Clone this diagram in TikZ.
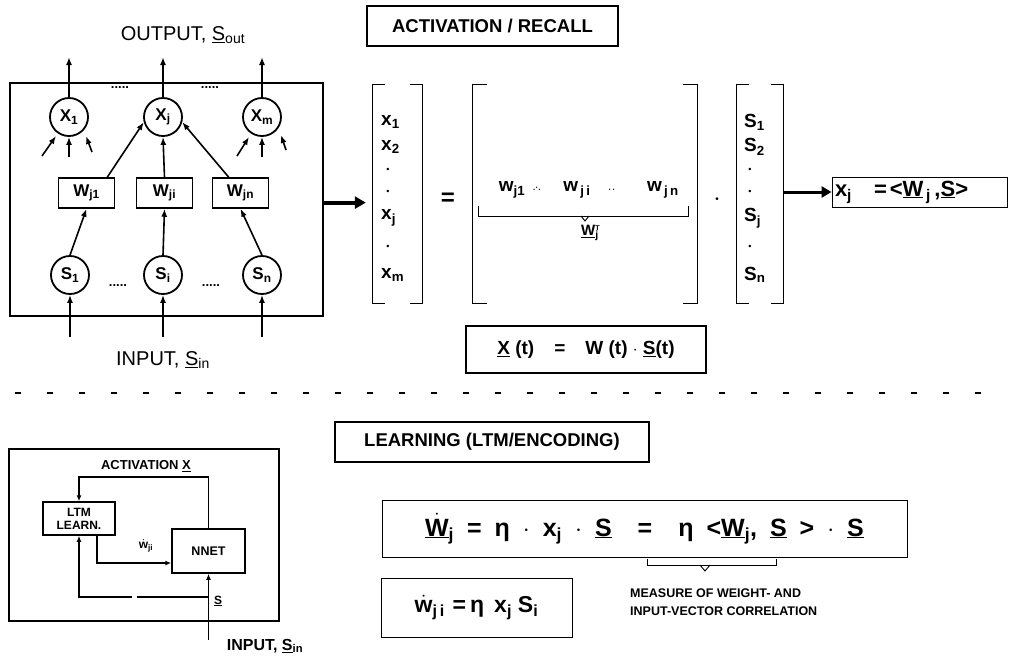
\documentclass[tikz,border=0pt]{standalone}
\usepackage{fontspec}
\setmainfont{Liberation Sans}
\usetikzlibrary{arrows.meta,calc}
\newcommand{\sbx}[1]{\textsubscript{#1}}
\newcommand{\uv}[1]{\underline{#1}}
\newcommand{\dotacc}[1]{\ensuremath{\dot{\hbox{#1}}}}
\newcommand{\fs}[1]{\fontsize{#1}{#1}\selectfont}
\newcommand{\gp}{\hspace{13pt}}
\begin{document}
\begin{tikzpicture}[x=1pt,y=-1pt,
  neuron/.style={circle,draw,line width=1.8pt,minimum size=38pt,inner sep=0pt,font=\fs{17}\bfseries},
  wbox/.style={draw,line width=1.5pt,minimum width=56pt,minimum height=30pt,inner sep=0pt,font=\fs{17}\bfseries},
  arr/.style={-{Latex[length=8pt,width=6pt]},line width=1.6pt},
  arrs/.style={-{Latex[length=6pt,width=5pt]},line width=1.4pt},
  bigarr/.style={-{Triangle[length=11pt,width=12pt]},line width=4pt},
  midarr/.style={-{Triangle[length=10pt,width=11pt]},line width=3pt},
  frame/.style={draw,line width=2.2pt,inner sep=0pt},
  thinbox/.style={draw,line width=0.9pt,inner sep=0pt},
  head/.style={draw,line width=2pt,inner sep=0pt,font=\fs{18.5}\bfseries},
  lbl/.style={font=\fs{20}},
  ent/.style={font=\fs{19}\bfseries,anchor=west,inner sep=0pt},
  dotn/.style={font=\fs{9},inner sep=0pt},
  vecbox/.style={inner sep=0pt},
  brk/.style={line width=0.9pt},
  small/.style={font=\fs{12}\bfseries,inner sep=0pt},
  dotsn/.style={font=\fs{13}\bfseries,inner sep=0pt}
]
\useasboundingbox (0,0) rectangle (1009,657);

% ---------------- network ----------------
\node[frame,anchor=north west,minimum width=313pt,minimum height=233pt] (net) at (9,82) {};
\node[lbl] (outlbl) at (183,35) {OUTPUT, \uv{S}\sbx{out}};
\node[neuron] (x1) at (69,117) {X\sbx{1}};
\node[neuron] (xj) at (163,117) {X\sbx{j}};
\node[neuron] (xm) at (262,117) {X\sbx{m}};
\node[wbox] (w1) at (86.5,193) {W\sbx{j1}};
\node[wbox] (wi) at (164.5,193) {W\sbx{ji}};
\node[wbox] (wn) at (240.5,193) {W\sbx{jn}};
\node[neuron] (s1) at (70,275) {S\sbx{1}};
\node[neuron] (si) at (163,275) {S\sbx{i}};
\node[neuron] (sn) at (262,275) {S\sbx{n}};
\node[dotsn] (d1) at (120,88) {.....};
\node[dotsn] (d2) at (210,88) {.....};
\node[dotsn] (d3) at (118,286) {.....};
\node[dotsn] (d4) at (211,286) {.....};
\coordinate (o1) at (69,57);
\coordinate (oj) at (163,57);
\coordinate (om) at (262,57);
\draw[arr] (x1.north) -- (o1);
\draw[arr] (xj.north) -- (oj);
\draw[arr] (xm.north) -- (om);
% small inputs into x1 and xm
\coordinate (a1) at (42,156); \coordinate (a1e) at (56,136);
\coordinate (a2) at (69,157);
\coordinate (a3) at (92,152); \coordinate (a3e) at (86,136);
\draw[arr] (a1) -- (a1e);
\draw[arr] (a2) -- (x1.south);
\draw[arr] (a3) -- (a3e);
\coordinate (b1) at (237,156); \coordinate (b1e) at (249,137);
\coordinate (b2) at (262,157);
\coordinate (b3) at (286,150); \coordinate (b3e) at (281,135);
\draw[arr] (b1) -- (b1e);
\draw[arr] (b2) -- (xm.south);
\draw[arr] (b3) -- (b3e);
% weights to xj
\draw[arr] ([xshift=-8pt]w1.north east) -- (xj.-165);
\draw[arr] (wi.north) -- (xj.south);
\draw[arr] ([xshift=17pt]wn.north west) -- (xj.-15);
% inputs to weights
\draw[arr] (s1.north) -- (w1.south);
\draw[arr] (si.north) -- (wi.south);
\draw[arr] (sn.north) -- (wn.south);
% external inputs
\coordinate (i1) at (70,337);
\coordinate (ii) at (163,337);
\coordinate (in) at (262,337);
\draw[arr] (i1) -- (s1.south);
\draw[arr] (ii) -- (si.south);
\draw[arr] (in) -- (sn.south);
\node[lbl] (inlbl) at (163,360) {INPUT, \uv{S}\sbx{in}};

% ---------------- activation / recall ----------------
\node[head,minimum width=251pt,minimum height=40pt] (act) at (492.5,26) {ACTIVATION / RECALL};

\node[vecbox,minimum width=49pt,minimum height=218pt] (xv) at (397.5,194) {};
\node[vecbox,minimum width=224pt,minimum height=218pt] (mw) at (585,194) {};
\node[vecbox,minimum width=46pt,minimum height=218pt] (sv) at (760,194) {};
\foreach \n/\t in {xv/12,mw/14,sv/12}{
  \draw[brk] ([xshift=\t pt]\n.north west) -- (\n.north west) -- (\n.south west) -- ([xshift=\t pt]\n.south west);
  \draw[brk] ([xshift=-\t pt]\n.north east) -- (\n.north east) -- (\n.south east) -- ([xshift=-\t pt]\n.south east);
}
\draw[bigarr] ([yshift=-3pt]net.east) -- ([xshift=-7pt,yshift=-3pt]xv.west |- net.east);

% x vector entries
\node[ent] (xe1) at (381,122) {x\sbx{1}};
\node[ent] (xe2) at (381,147) {x\sbx{2}};
\node[dotn] (xd1) at (388,170) {•};
\node[dotn] (xd2) at (388,192) {•};
\node[ent] (xej) at (381,218) {x\sbx{j}};
\node[dotn] (xd3) at (388,247) {•};
\node[ent] (xem) at (381,275) {x\sbx{m}};

\node[font=\fs{24}\bfseries] (eq) at (448,199) {=};

% matrix row
\node[font=\fs{19}\bfseries] (mw1) at (512,190) {w\sbx{j1}};
\node[font=\fs{8}\bfseries] (md1) at (537,190) {·\raisebox{2pt}{·}·};
\node[font=\fs{19}\bfseries] (mwi) at (577,190) {w\sbx{\,j\,i}};
\node[font=\fs{8}\bfseries] (md2) at (612,191) {·\,·};
\node[font=\fs{19}\bfseries] (mwn) at (663,190) {w\sbx{\,j\,n}};
\coordinate (ub1) at (478,206);
\coordinate (ub2) at (688,206);
\draw[brk] (ub1) -- ++(0,10) -- ($(ub2)+(0,10)$) -- (ub2);
\draw[brk] (581,216) -- (585,221) -- (589,216);
\node[font=\fs{15}\bfseries,anchor=north] (wt) at (590,222) {\uv{W}\rlap{\textsuperscript{\fs{7}T}}\textsubscript{j}};

\node[dotn,font=\fs{10}] (mul) at (717,200) {•};

% s vector entries
\node[ent] (se1) at (744,122) {S\sbx{1}};
\node[ent] (se2) at (744,147) {S\sbx{2}};
\node[dotn] (sd1) at (750,170) {•};
\node[dotn] (sd2) at (750,192) {•};
\node[ent] (sej) at (744,218) {S\sbx{j}};
\node[dotn] (sd3) at (750,247) {•};
\node[ent] (sen) at (744,275) {S\sbx{n}};

\node[thinbox,minimum width=175pt,minimum height=30pt,font=\fs{22}\bfseries,text width=169pt,align=left] (res) at (919.5,192)
  {x\sbx{j}\hspace{22pt}=\hspace{3pt}<\uv{W}\sbx{\,j}\,,\uv{S}>};
\draw[midarr] (sv.east |- res.west) -- (res.west);

\node[frame,minimum width=240pt,minimum height=47pt,font=\fs{19}\bfseries] (xt) at (586,349.5)
  {\uv{X} (t)\hspace{20pt}=\hspace{20pt}W (t) $\cdot$ \uv{S}(t)};

% ---------------- separator ----------------
\coordinate (sepL) at (15,393);
\coordinate (sepR) at (1000,393);
\draw[line width=1.2pt,dash pattern=on 6pt off 26pt] (sepL) -- (sepR);

% ---------------- learning block ----------------
\node[frame,anchor=north west,minimum width=270pt,minimum height=172pt] (bl) at (8,448) {};
\node[font=\fs{13}\bfseries,inner sep=0pt] (actx) at (146,466) {ACTIVATION \uv{X}};
\node[draw,line width=1.5pt,minimum width=72pt,minimum height=33pt,inner sep=0pt,align=center,font=\fontsize{12}{13}\selectfont\bfseries] (ltm) at (79,518.5) {LTM\\LEARN.};
\node[draw,line width=1.5pt,minimum width=73pt,minimum height=44pt,inner sep=0pt,font=\fs{12.5}\bfseries] (nnet) at (208.5,551) {NNET};
\coordinate (fb) at (79,477);
\draw[arrs] (nnet.north) |- (fb) -- (ltm.north);
\draw[arrs] ([xshift=18pt]ltm.south) |- ([yshift=-12pt]nnet.west);
\node[small] (wdot) at (146,546) {\dotacc{w}\sbx{ji}};
\coordinate (inb) at (208.5,640);
\coordinate (br) at (208.5,597);
\coordinate (gapR) at (137,597);
\coordinate (gapL) at (132,597);
\coordinate (brL) at (79,597);
\draw[arrs] (inb) -- (nnet.south);
\draw[line width=1.4pt] (br) -- (gapR);
\draw[arrs] (gapL) -- (brL) -- (ltm.south);
\node[small] (slbl) at (218,601) {\uv{S}};
\node[font=\fs{16}\bfseries] (inlbl2) at (265,646) {INPUT, \uv{S}\sbx{in}};

\node[head,minimum width=314pt,minimum height=40pt] (learn) at (492,442) {LEARNING (LTM/ENCODING)};

\node[thinbox,minimum width=525pt,minimum height=57pt,font=\fs{25}\bfseries] (eq1) at (644.5,528.5)
  {\dotacc{\uv{W}}\sbx{j}\gp=\gp η\gp$\cdot$\gp x\sbx{j}\gp$\cdot$\gp\uv{S}\gp\gp=\gp\gp η\gp<\uv{W}\sbx{j},\gp\uv{S}\gp>\gp$\cdot$\gp\uv{S}};
\coordinate (ubb1) at (647,559);
\coordinate (ubb2) at (776,559);
\draw[brk] (ubb1) -- ++(0,6) -- ($(ubb2)+(0,6)$) -- (ubb2);
\draw[brk] (700,565) -- (705,571) -- (710,565);
\node[font=\fs{12.5}\bfseries,anchor=west,align=left,inner sep=0pt] (meas) at (630,602)
  {MEASURE OF WEIGHT- AND\\[6pt]INPUT-VECTOR CORRELATION};
\node[thinbox,minimum width=191pt,minimum height=59pt,font=\fs{23}\bfseries] (eq2) at (476.5,607.5)
  {\dotacc{w}\sbx{j\,i}\hspace{8pt}=\hspace{4pt}η\hspace{10pt}x\sbx{j}\hspace{6pt}S\sbx{i}};
\end{tikzpicture}
\end{document}
